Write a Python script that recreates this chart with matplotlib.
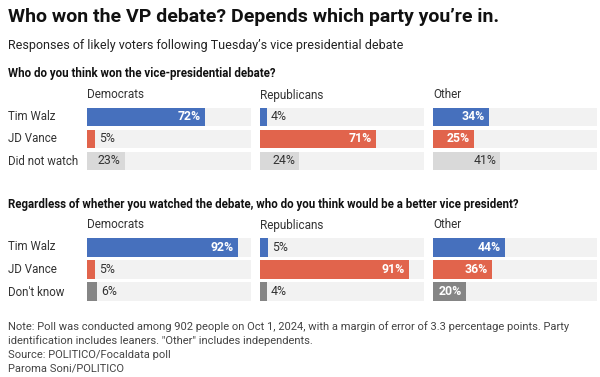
import matplotlib.pyplot as plt

plt.rcParams['font.family'] = ['Roboto', 'DejaVu Sans']

parties = ["Democrats", "Republicans", "Other"]

won_rows = ["Tim Walz", "JD Vance", "Did not watch"]
won_dem = [72, 5, 23]
won_rep = [4, 71, 24]
won_oth = [34, 25, 41]

better_rows = ["Tim Walz", "JD Vance", "Don't know"]
better_dem = [92, 5, 6]
better_rep = [5, 91, 4]
better_oth = [44, 36, 20]

BLUE = "#4670bd"
RED = "#e1644c"
LIGHT = "#d9d9d9"
DARK = "#858585"
BG = "#f2f2f2"

fig = plt.figure(figsize=(6, 3.77), dpi=100)

W, H = 600, 377


def fx(px):
    return px / W


def fy(py):
    return 1 - py / H


def panel(left, top, bottom, rows, vals, colors, txt_colors, weights):
    ax = fig.add_axes([fx(left), fy(bottom), fx(164), (bottom - top) / H])
    y = list(range(len(rows)))
    ax.barh(y, [100] * len(rows), height=0.85, color=BG, left=0)
    ax.barh(y, vals, height=0.85, color=colors)
    for i, v in enumerate(vals):
        if v > 10:
            ax.text(v - 2.5, i, f"{v}%", ha="right", va="center",
                    color=txt_colors[i], fontsize=8.8, fontweight=weights[i])
        else:
            ax.text(v + 2.5, i, f"{v}%", ha="left", va="center",
                    color="#333333", fontsize=8.8)
    ax.set_xlim(0, 100)
    ax.set_ylim(len(rows) - 0.5, -0.5)
    ax.axis("off")
    return ax


lefts = [87, 260, 433]

# chart 1
colors1 = [BLUE, RED, LIGHT]
txt1 = ["white", "white", "#333333"]
w1 = ["bold", "bold", "normal"]
for left, vals in zip(lefts, [won_dem, won_rep, won_oth]):
    panel(left, 106, 172, won_rows, vals, colors1, txt1, w1)

# chart 2
colors2 = [BLUE, RED, DARK]
txt2 = ["white", "white", "white"]
w2 = ["bold", "bold", "bold"]
for left, vals in zip(lefts, [better_dem, better_rep, better_oth]):
    panel(left, 236, 303, better_rows, vals, colors2, txt2, w2)

# column headers
for left, p in zip(lefts, parties):
    fig.text(fx(left), fy(95), p, ha="left", va="center", fontsize=8.5, color="#333333")
    fig.text(fx(left), fy(225), p, ha="left", va="center", fontsize=8.5, color="#333333")

# row labels
for i, r in enumerate(won_rows):
    fig.text(fx(8), fy(117 + 22 * i), r, ha="left", va="center", fontsize=8.3, color="#333333")
for i, r in enumerate(better_rows):
    fig.text(fx(8), fy(247 + 22.5 * i), r, ha="left", va="center", fontsize=8.3, color="#333333")

fig.text(fx(8), fy(17), "Who won the VP debate? Depends which party you\u2019re in.",
         ha="left", va="center", fontsize=14, fontweight="bold", color="#111111")
fig.text(fx(8), fy(45), "Responses of likely voters following Tuesday\u2019s vice presidential debate",
         ha="left", va="center", fontsize=9, color="#222222")
fig.text(fx(8), fy(73), "Who do you think won the vice-presidential debate?",
         ha="left", va="center", fontsize=8.3, fontweight="bold", color="#111111")
fig.text(fx(8), fy(205), "Regardless of whether you watched the debate, who do you think would be a better vice president?",
         ha="left", va="center", fontsize=8.3, fontweight="bold", color="#111111")

notes = [
    "Note: Poll was conducted among 902 people on Oct 1, 2024, with a margin of error of 3.3 percentage points. Party",
    "identification includes leaners. \"Other\" includes independents.",
    "Source: POLITICO/Focaldata poll",
    "Paroma Soni/POLITICO",
]
for i, n in enumerate(notes):
    fig.text(fx(8), fy(327 + 14 * i), n, ha="left", va="center", fontsize=8, color="#444444")

fig.savefig("out.png", dpi=100, facecolor="white")
